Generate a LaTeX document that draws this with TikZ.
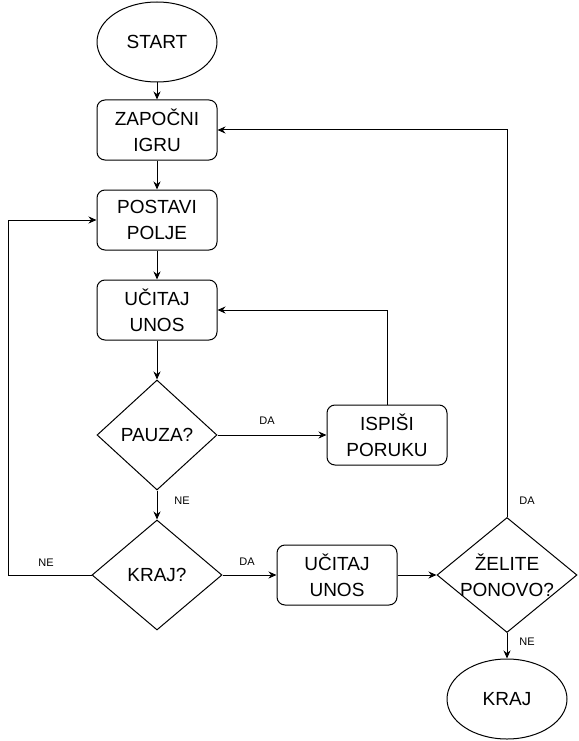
\documentclass[tikz,border=0pt]{standalone}
\usepackage{fontspec}
\setmainfont{Liberation Sans}
\usetikzlibrary{shapes.geometric,arrows.meta}

\begin{document}
\begin{tikzpicture}[x=1pt,y=-1pt,
  tekst/.style={font=\fontsize{19}{26}\selectfont,align=center},
  pocetak/.style={ellipse,draw,line width=1pt,minimum width=120pt,minimum height=80pt,inner sep=0pt,tekst},
  korak/.style={rectangle,rounded corners=8pt,draw,line width=1pt,minimum width=120pt,minimum height=60pt,inner sep=0pt,tekst},
  odluka/.style={diamond,draw,line width=1pt,inner sep=0pt},
  oznaka/.style={font=\fontsize{11}{13}\selectfont},
  tok/.style={-{Stealth[length=8pt,width=7pt]},line width=1pt}]

\useasboundingbox (0,0) rectangle (578,741);

% blokovi
\node[pocetak] (start) at (157,42) {START};
\node[korak] (zapocni) at (157,130) {ZAPOČNI\\IGRU};
\node[korak] (postavi) at (157,220) {POSTAVI\\POLJE};
\node[korak] (ucitaj) at (157,310) {UČITAJ\\UNOS};
\node[odluka,minimum width=120pt,minimum height=110pt,label={[tekst]center:PAUZA?}] (pauza) at (157,435) {};
\node[korak] (ispisi) at (387,435) {ISPIŠI\\PORUKU};
\node[odluka,minimum width=130pt,minimum height=110pt,label={[tekst]center:KRAJ?}] (krajq) at (157,575) {};
\node[korak] (ucitajdva) at (337,575) {UČITAJ\\UNOS};
\node[odluka,minimum width=140pt,minimum height=115pt,label={[tekst]center:ŽELITE\\PONOVO?}] (zelite) at (507,575) {};
\node[pocetak] (kraj) at (507,699) {KRAJ};

% veze
\coordinate (lijevo) at (8,575);
\draw[tok] (start) -- (zapocni);
\draw[tok] (zapocni) -- (postavi);
\draw[tok] (postavi) -- (ucitaj);
\draw[tok] (ucitaj) -- (pauza);
\draw[tok] (pauza) -- (ispisi);
\draw[tok] (ispisi.north) |- (ucitaj.east);
\draw[tok] (pauza) -- (krajq);
\draw[tok] (krajq.west) -- (lijevo) |- (postavi.west);
\draw[tok] (krajq) -- (ucitajdva);
\draw[tok] (ucitajdva) -- (zelite);
\draw[tok] (zelite.north) |- (zapocni.east);
\draw[tok] (zelite) -- (kraj);

% oznake
\node[oznaka] (daPauza) at (267,421) {DA};
\node[oznaka] (nePauza) at (182,501) {NE};
\node[oznaka] (neKraj) at (46,563) {NE};
\node[oznaka] (daKraj) at (247,562) {DA};
\node[oznaka] (daZelite) at (527,501) {DA};
\node[oznaka] (neZelite) at (527,642) {NE};
\end{tikzpicture}
\end{document}
